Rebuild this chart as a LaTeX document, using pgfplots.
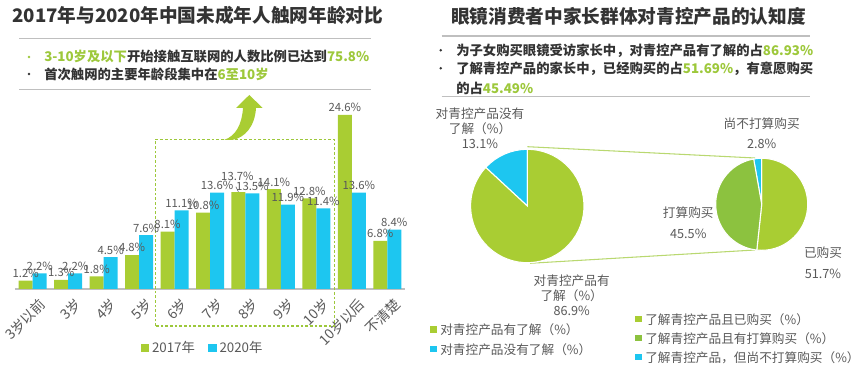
\documentclass[border=0pt]{standalone}
\usepackage{pgfplots}
\usepackage{pgfplotstable}
\pgfplotsset{compat=1.18}
\usepackage{fontspec}
\setmainfont{Noto Sans CJK SC}
\usetikzlibrary{arrows.meta}
\definecolor{cgreen}{HTML}{A9CD33}
\definecolor{cblue}{HTML}{1DC6F0}
\definecolor{cdgreen}{HTML}{8CC23F}
\definecolor{ctext}{HTML}{333333}
\definecolor{clabel}{HTML}{595959}
\definecolor{chl}{HTML}{9DC83B}
\definecolor{cline}{HTML}{BFBFBF}
\definecolor{cconn}{HTML}{B9D870}
\pgfplotstableread{
x y17 y20 l17 l20
0 1.2 2.2 1.2\% 2.2\%
1 1.3 2.2 1.3\% 2.2\%
2 1.8 4.5 1.8\% 4.5\%
3 4.8 7.6 4.8\% 7.6\%
4 8.1 11.1 8.1\% 11.1\%
5 10.8 13.6 10.8\% 13.6\%
6 13.7 13.5 {} 13.5\%
7 14.1 11.9 14.1\% 11.9\%
8 12.8 11.4 12.8\% 11.4\%
9 24.6 13.6 24.6\% 13.6\%
10 6.8 8.4 6.8\% 8.4\%
}\agedata
\begin{document}
\begin{tikzpicture}
% ---------------- bar chart ----------------
\begin{axis}[
  at={(11.25pt,-216.75pt)}, anchor=south west,
  scale only axis, width=292.5pt, height=138.06pt,
  xmin=-0.5, xmax=10.5, ymin=0, ymax=26,
  clip=false,
  axis x line*=bottom, axis y line=none,
  x axis line style={draw=cline, line width=1pt},
  xtick={0,...,10}, xtick style={draw=none},
  xticklabels={3岁以前,3岁,4岁,5岁,6岁,7岁,8岁,9岁,10岁,10岁以后,不清楚},
  xticklabel style={rotate=45, anchor=north east, font=\fontsize{10.5}{12}\selectfont, text=clabel, inner sep=1pt, xshift=3pt, yshift=-3pt},
  ybar, bar width=10.5pt,
  point meta=explicit symbolic,
  nodes near coords={\pgfplotspointmeta},
  nodes near coords style={font=\fontsize{8.5}{9}\selectfont, text=clabel, inner sep=2pt},
  legend style={at={(0.482,-0.32)}, anchor=center, draw=none, fill=none, legend columns=2,
    font=\fontsize{10}{12}\selectfont, text=clabel,
    /tikz/every even column/.append style={column sep=8pt}},
  legend image code/.code={\fill[#1] (0pt,-3.2pt) rectangle (6.4pt,3.2pt);},
]
\addplot[fill=cgreen, draw=none, bar shift=-5.25pt] table[x=x,y=y17,meta=l17]{\agedata};
\addplot[fill=cblue, draw=none, bar shift=5.25pt] table[x=x,y=y20,meta=l20]{\agedata};
\addplot[draw=none, fill=none, bar shift=-6pt, forget plot, nodes near coords style={yshift=6pt}] coordinates {(6,13.7) [13.7\%]};
\legend{2017年,2020年}
\draw[clabel, line width=0.4pt] (axis cs:5.73,14.45) -- (axis cs:5.80,13.74);
\draw[chl, line width=0.8pt, dash pattern=on 2pt off 1.5pt] (axis cs:3.47,-5.23) rectangle (axis cs:8.51,21.14);
\end{axis}
% ---------------- pies ----------------
\begin{axis}[
  at={(315pt,-279.75pt)}, anchor=south west,
  x=0.75pt, y=0.75pt, xmin=420, xmax=865, ymin=-373, ymax=-100,
  hide axis, clip=false]
\draw[cconn, line width=0.8pt] (axis cs:527.3,-146.7) -- (axis cs:755,-158);
\draw[cconn, line width=0.8pt] (axis cs:530,-263.3) -- (axis cs:755,-250);
% pie 1: 13.1 / 86.9
\filldraw[fill=cblue, draw=white, line width=0.8pt] (axis cs:527.3,-206) -- ++(90:42.525pt) arc[start angle=90, end angle={90+3.6*13.1}, radius=42.525pt] -- cycle;
\filldraw[fill=cgreen, draw=white, line width=0.8pt] (axis cs:527.3,-206) -- ++({90+3.6*13.1}:42.525pt) arc[start angle={90+3.6*13.1}, end angle={90+3.6*13.1+3.6*86.9}, radius=42.525pt] -- cycle;
% pie 2: 51.7 / 2.8 / 45.5
\filldraw[fill=cgreen, draw=white, line width=0.8pt] (axis cs:761.7,-204.3) -- ++({90-3.6*51.7}:34.5pt) arc[start angle={90-3.6*51.7}, end angle=90, radius=34.5pt] -- cycle;
\filldraw[fill=cblue, draw=white, line width=0.8pt] (axis cs:761.7,-204.3) -- ++(90:34.5pt) arc[start angle=90, end angle={90+3.6*2.8}, radius=34.5pt] -- cycle;
\filldraw[fill=cdgreen, draw=white, line width=0.8pt] (axis cs:761.7,-204.3) -- ++({90+3.6*2.8}:34.5pt) arc[start angle={90+3.6*2.8}, end angle={90+3.6*2.8+3.6*45.5}, radius=34.5pt] -- cycle;
\end{axis}
% ---------------- decorations & text ----------------
\begin{scope}[x=0.75pt, y=-0.75pt]
% left header
\node[anchor=west, font=\bfseries\fontsize{14}{16}\selectfont, text=ctext, inner sep=0pt] at (12,15) {2017年与2020年中国未成年人触网年龄对比};
\draw[cline, line width=1.1pt] (19,38.3) -- (371,38.3);
\draw[cline, line width=1.1pt] (19,89.3) -- (371,89.3);
\fill[chl] (29,57) circle (1.4);
\fill[ctext] (29,74) circle (1.4);
\node[anchor=west, font=\bfseries\fontsize{10}{12}\selectfont, text=ctext, inner sep=0pt] at (44,57) {\textcolor{chl}{3-10岁及以下}开始接触互联网的人数比例已达到\textcolor{chl}{75.8\%}};
\node[anchor=west, font=\bfseries\fontsize{10}{12}\selectfont, text=ctext, inner sep=0pt] at (44,74) {首次触网的主要年龄段集中在\textcolor{chl}{6至10岁}};
% arrow
\fill[cgreen] (224,140) .. controls (236,136) and (242,124) .. (243,108) -- (236,108) -- (249.3,95) -- (262.7,108) -- (256,108) .. controls (255,126) and (245,138) .. (232,140) -- cycle;
% right header
\node[anchor=west, font=\bfseries\fontsize{14}{16}\selectfont, text=ctext, inner sep=0pt] at (451,16) {眼镜消费者中家长群体对青控产品的认知度};
\draw[cline, line width=1.1pt] (441.7,36) -- (810,36);
\draw[cline, line width=1.1pt] (441.7,96.7) -- (810,96.7);
\fill[ctext] (440.7,50.3) circle (1.4);
\fill[ctext] (440.7,68.3) circle (1.4);
\node[anchor=west, font=\bfseries\fontsize{10}{12}\selectfont, text=ctext, inner sep=0pt] at (456,50.3) {为子女购买眼镜受访家长中，对青控产品有了解的占\textcolor{chl}{86.93\%}};
\node[anchor=west, font=\bfseries\fontsize{10}{12}\selectfont, text=ctext, inner sep=0pt] at (456,68.3) {了解青控产品的家长中，已经购买的占\textcolor{chl}{51.69\%}，有意愿购买};
\node[anchor=west, font=\bfseries\fontsize{10}{12}\selectfont, text=ctext, inner sep=0pt] at (456,88.3) {的占\textcolor{chl}{45.49\%}};
% pie labels
\node[font=\fontsize{9.5}{11.25}\selectfont, text=clabel, align=center] at (480,128.3) {对青控产品没有\\了解（\%）\\13.1\%};
\node[font=\fontsize{9.5}{11.25}\selectfont, text=clabel, align=center] at (571.7,295) {对青控产品有\\了解（\%）\\86.9\%};
\node[font=\fontsize{9.5}{15}\selectfont, text=clabel, align=center] at (761.7,133.3) {尚不打算购买\\2.8\%};
\node[font=\fontsize{9.5}{16}\selectfont, text=clabel, align=center] at (688.3,222.5) {打算购买\\45.5\%};
\node[font=\fontsize{9.5}{16}\selectfont, text=clabel, align=center] at (823,262.5) {已购买\\51.7\%};
% pie legends
\fill[cgreen] (430,326.5) rectangle (436.6,333.1);
\node[anchor=west, font=\fontsize{9.5}{11}\selectfont, text=clabel, inner sep=0pt] at (440,330) {对青控产品有了解（\%）};
\fill[cblue] (430,345.8) rectangle (436.6,352.4);
\node[anchor=west, font=\fontsize{9.5}{11}\selectfont, text=clabel, inner sep=0pt] at (440,349.3) {对青控产品没有了解（\%）};
\fill[cgreen] (635,315.8) rectangle (641.6,322.4);
\node[anchor=west, font=\fontsize{9.5}{11}\selectfont, text=clabel, inner sep=0pt] at (645,319.3) {了解青控产品且已购买（\%）};
\fill[cdgreen] (635,334.8) rectangle (641.6,341.4);
\node[anchor=west, font=\fontsize{9.5}{11}\selectfont, text=clabel, inner sep=0pt] at (645,338.3) {了解青控产品且有打算购买（\%）};
\fill[cblue] (635,353.8) rectangle (641.6,360.4);
\node[anchor=west, font=\fontsize{9.5}{11}\selectfont, text=clabel, inner sep=0pt] at (645,357.3) {了解青控产品，但尚不打算购买（\%）};
\end{scope}
\pgfresetboundingbox
\path[use as bounding box] (0,0) rectangle (648.75pt,-279.75pt);
\end{tikzpicture}
\end{document}
